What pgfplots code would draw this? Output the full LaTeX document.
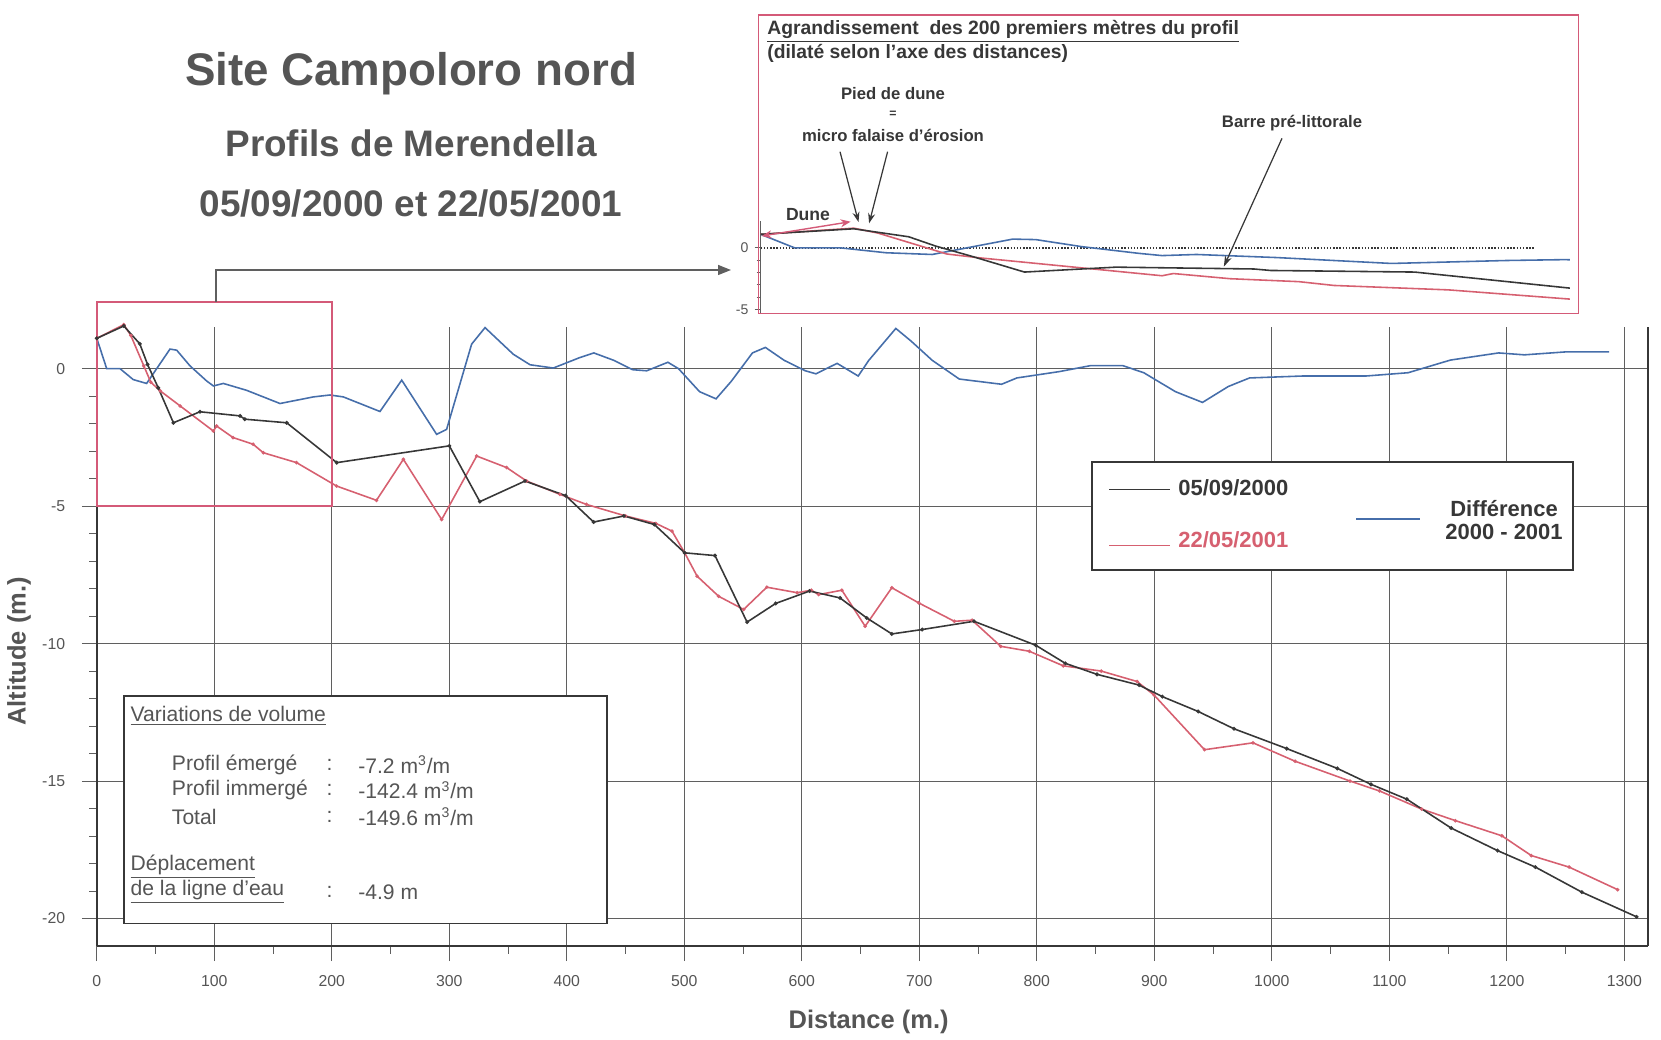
\documentclass[border=0pt]{standalone}
\usepackage{fontspec}
\setmainfont{Liberation Sans}
\usepackage{pgfplots}
\pgfplotsset{compat=1.18}
\usepackage{pgfplotstable}
\usetikzlibrary{arrows.meta}

\definecolor{c2000}{RGB}{55,55,55}
\definecolor{c2001}{RGB}{214,96,112}
\definecolor{cdiff}{RGB}{70,110,170}
\definecolor{gridc}{RGB}{95,95,95}
\definecolor{txtc}{RGB}{85,85,85}
\definecolor{framec}{RGB}{212,90,120}

% profil du 05/09/2000
\pgfplotstableread{
x y
0 1.1
23 1.55
36.6 0.9
43.2 0.15
52.3 -0.7
65.2 -1.97
87.8 -1.57
121.9 -1.72
126 -1.84
161.6 -1.97
204.2 -3.42
300 -2.81
326 -4.84
364.4 -4.09
399 -4.62
422.8 -5.58
448.6 -5.36
474.5 -5.67
500.3 -6.70
526.1 -6.80
553.4 -9.22
577.8 -8.54
606.6 -8.09
632.5 -8.34
655.3 -9.07
676.6 -9.65
702.4 -9.49
746.5 -9.19
799 -10.06
824.3 -10.72
851.2 -11.12
887 -11.51
906.8 -11.93
937.3 -12.47
967.8 -13.10
1012.7 -13.82
1055.7 -14.54
1084.4 -15.12
1114.9 -15.66
1152.6 -16.71
1192.1 -17.53
1224.3 -18.13
1263.8 -19.04
1310.5 -19.94
}\profA

% profil du 22/05/2001
\pgfplotstableread{
x y
0 1.1
23 1.6
29 1.2
40 0.1
46 -0.5
54 -0.81
71 -1.36
99.2 -2.27
102 -2.09
116 -2.51
133 -2.75
141.7 -3.06
170 -3.42
204 -4.27
238 -4.79
260.9 -3.30
293.5 -5.49
323.3 -3.18
348.8 -3.60
365.8 -4.09
394 -4.57
416.7 -4.94
450 -5.36
475.8 -5.63
489.5 -5.91
500.3 -6.70
510.9 -7.55
529.2 -8.28
550.5 -8.76
570.2 -7.95
596 -8.15
608.2 -8.06
614.3 -8.22
634.1 -8.06
653.9 -9.37
676.6 -7.97
699.4 -8.52
729.8 -9.19
744.9 -9.15
769.3 -10.10
793.6 -10.28
822.5 -10.81
854.8 -11.00
885.3 -11.38
899.7 -11.87
942.7 -13.86
984 -13.61
1019.8 -14.28
1066.5 -15.00
1091.6 -15.36
1127.5 -16.02
1156.2 -16.44
1195.7 -16.99
1220.8 -17.71
1253 -18.13
1294.3 -18.95
}\profB

% difference 2000 - 2001
\pgfplotstableread{
x y
0 1.1
8.4 0.0
19.7 0.0
31 -0.4
42.4 -0.54
62.3 0.71
68 0.67
79.3 0.1
93.5 -0.45
99.2 -0.63
107.7 -0.54
127.5 -0.79
155.9 -1.27
184.3 -1.03
198.5 -0.96
209.8 -1.03
241 -1.56
259.5 -0.42
289.2 -2.39
297.7 -2.21
319 0.89
330.4 1.49
354.5 0.52
368.7 0.14
388.5 0.02
411 0.40
423 0.57
440 0.3
456 -0.04
468 -0.08
486 0.23
495 0.0
513 -0.84
527 -1.1
540 -0.46
558 0.57
569 0.77
585 0.3
603 -0.08
612 -0.19
630 0.19
648 -0.27
657 0.3
680 1.46
693 1.0
711 0.3
734 -0.38
770 -0.57
783 -0.34
819 -0.11
846 0.11
873 0.11
891 -0.15
918 -0.84
941 -1.23
963 -0.65
981 -0.34
1026 -0.27
1080 -0.27
1116 -0.15
1152 0.31
1193 0.57
1215 0.5
1251 0.61
1287 0.61
}\diffAB

\begin{document}
\begin{tikzpicture}[
  vt/.style={font=\fontsize{12}{14}\selectfont, text=txtc, anchor=west, inner sep=0pt},
  lt/.style={font=\bfseries\fontsize{12.5}{15}\selectfont, text=c2000, inner sep=0pt},
  ann/.style={font=\bfseries\fontsize{10}{12}\selectfont, text=c2000, inner sep=0pt},
  tt/.style={font=\bfseries, text=txtc, inner sep=0pt},
]
\begin{axis}[
  at={(0,0)}, anchor=south west,
  scale only axis, width=310.2mm, height=123.73mm,
  xmin=0, xmax=1320, ymin=-21, ymax=1.5,
  axis x line*=bottom, axis y line*=box,
  axis line style={-, c2000, line width=1.1pt},
  xtick pos=left, ytick pos=left,
  xtick={0,100,...,1300}, minor x tick num=1,
  ytick={-20,-15,...,0}, minor y tick num=4,
  grid=major, major grid style={gridc, line width=0.6pt},
  tick align=outside, major tick length=3mm, minor tick length=1.5mm,
  tick style={gridc, line width=0.6pt},
  tick label style={font=\fontsize{9}{10}\selectfont, text=txtc},
  xticklabel style={yshift=-1.6mm},
  yticklabel style={xshift=-2.1mm},
  /pgf/number format/assume math mode=true,
  /pgf/number format/1000 sep={},
  xlabel={Distance (m.)}, ylabel={Altitude (m.)},
  label style={font=\bfseries\fontsize{14.5}{16}\selectfont, text=txtc},
  xlabel style={at={(rel axis cs:0.4976,-0.1228)}, anchor=center},
  ylabel style={at={(rel axis cs:-0.0502,0.476)}, anchor=center},
  clip=false,
]
\addplot[cdiff, line width=0.9pt] table {\diffAB};
\addplot[c2001, line width=0.9pt, mark=*, mark size=0.5pt] table {\profB};
\addplot[c2000, line width=0.9pt, mark=*, mark size=0.6pt] table {\profA};
\draw[framec, line width=0.9pt] (axis cs:0,-5) rectangle (axis cs:200,2.43);
\end{axis}

% agrandissement des 200 premiers metres
\begin{axis}[
  at={(132.76mm,126.6mm)}, anchor=south west,
  scale only axis, width=161.86mm, height=18.44mm,
  xmin=0, xmax=200, ymin=-5.3, ymax=2.2,
  axis x line=none, axis y line*=left,
  axis line style={-, gridc, line width=0.6pt},
  xtick=\empty, ytick={-5,0}, minor y tick num=4,
  tick align=outside, major tick length=1.2mm, minor tick length=0.8mm,
  tick style={gridc, line width=0.5pt},
  tick label style={font=\fontsize{8}{9}\selectfont, text=txtc},
  /pgf/number format/assume math mode=true,
]
\addplot[c2000, densely dotted, line width=0.8pt] coordinates {(0,0) (191,0)};
\addplot[cdiff, line width=0.9pt] table {\diffAB};
\addplot[c2001, line width=0.9pt] table {\profB};
\addplot[c2000, line width=0.9pt] table {\profA};
\end{axis}

\begin{scope}[x=0.2mm, y=-0.2mm, shift={(-19.36mm,189.2mm)}]
\path[use as bounding box] (0,0) rectangle (1661,1038);

% titre
\node[tt, font=\bfseries\fontsize{26}{30}\selectfont] at (411,74) {Site Campoloro nord};
\node[tt, font=\bfseries\fontsize{21}{24}\selectfont] at (411,143) {Profils de Merendella};
\node[tt, font=\bfseries\fontsize{21}{24}\selectfont] at (411,204) {05/09/2000 et 22/05/2001};

% renvoi vers l'agrandissement
\draw[gridc, line width=0.8pt, -{Triangle[length=2.6mm,width=2mm]}] (216,301.9) -- (216,270) -- (731,270);

% cadre de l'agrandissement
\draw[framec, line width=0.9pt] (758.5,14.8) rectangle (1578.4,313.5);
\node[ann, anchor=west, font=\bfseries\fontsize{11}{13}\selectfont] at (767,31.5) {\underline{Agrandissement\ \ des 200 premiers mètres du profil}};
\node[ann, anchor=west, font=\bfseries\fontsize{11}{13}\selectfont] at (767,53) {(dilaté selon l'axe des distances)};
\node[ann, font=\bfseries\fontsize{9.5}{11}\selectfont] at (893,94) {Pied de dune};
\node[ann, font=\bfseries\fontsize{7}{8}\selectfont] at (893,114) {=};
\node[ann, font=\bfseries\fontsize{9.5}{11}\selectfont] at (893,135.6) {micro falaise d'érosion};
\draw[c2000, line width=0.7pt, -{Stealth[length=2mm,width=1.4mm,fill=framec]}] (840,151.7) -- (858.5,222);
\draw[c2000, line width=0.7pt, -{Stealth[length=2mm,width=1.4mm]}] (887.6,151.7) -- (869.1,223.3);
\node[ann, font=\bfseries\fontsize{9.5}{11}\selectfont] at (1292,123.3) {Barre pré-littorale};
\draw[c2000, line width=0.7pt, -{Stealth[length=2.2mm,width=1.4mm]}] (1282,138.3) -- (1223.8,266.7);
\node[ann] at (808,215) {Dune};
\draw[framec, line width=0.8pt, {Stealth[length=2mm,width=1.6mm]}-{Stealth[length=2mm,width=1.6mm]}] (761.6,236) -- (850.6,221.7);

% legende
\draw[fill=white, draw=c2000, line width=0.9pt] (1092.1,461.9) rectangle (1573,569.9);
\draw[c2000, line width=1pt] (1109,489.4) -- (1169.5,489.4);
\node[lt, anchor=west] at (1178,487.3) {05/09/2000};
\draw[c2001, line width=1pt] (1109,545.5) -- (1169.5,545.5);
\node[lt, anchor=west, text=c2001] at (1178,540) {22/05/2001};
\draw[cdiff, line width=1pt] (1356,519) -- (1419.5,519);
\node[lt] at (1504,508.5) {Différence};
\node[lt] at (1504,531.8) {2000 - 2001};

% variations de volume
\draw[fill=white, draw=c2000, line width=0.9pt] (124,696) rectangle (607,923.7);
\node[vt] at (130.3,716) {\underline{Variations de volume}};
\node[vt] at (171.6,764.8) {Profil émergé};
\node[vt] at (171.6,790.2) {Profil immergé};
\node[vt] at (171.6,816.7) {Total};
\node[vt] at (326.3,764.8) {:};
\node[vt] at (326.3,790.2) {:};
\node[vt] at (326.3,816.7) {:};
\node[vt] at (358,764.8) {-7.2 m\textsuperscript{3}/m};
\node[vt] at (358,790.2) {-142.4 m\textsuperscript{3}/m};
\node[vt] at (358,816.7) {-149.6 m\textsuperscript{3}/m};
\node[vt] at (130.3,866.5) {\underline{Déplacement}};
\node[vt] at (130.3,892) {\underline{de la ligne d'eau}};
\node[vt] at (326.3,892) {:};
\node[vt] at (358,892) {-4.9 m};
\end{scope}
\end{tikzpicture}
\end{document}
